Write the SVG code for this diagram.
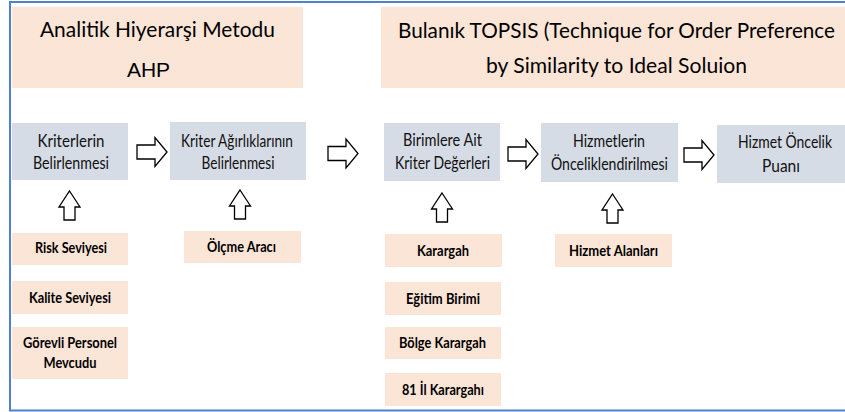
<svg xmlns="http://www.w3.org/2000/svg" xmlns:xlink="http://www.w3.org/1999/xlink" width="845" height="412" viewBox="0 0 845 412">
<style>
.peach{fill:#fbe5d6}
.gray{fill:#d6dce5}
.t{font-family:Lato,"Liberation Sans",sans-serif;font-size:16.5px;fill:#111;text-anchor:middle}
.b{font-family:Lato,"Liberation Sans",sans-serif;font-size:15.5px;font-weight:bold;fill:#000;text-anchor:middle}
.h{font-family:Lato,"Liberation Sans",sans-serif;font-size:21px;fill:#000;text-anchor:middle}
.a{font-family:"Liberation Sans",Arial,sans-serif;font-size:21px;fill:#000;text-anchor:middle}
.arr{fill:#fff;stroke:#000;stroke-width:1.3;stroke-linejoin:miter}
</style>
<defs>
<path id="ra" d="M0,-7 H18 V-14.5 L30,0 L18,14.5 V7 H0 Z"/>
<path id="ua" d="M0,0 L10.5,16 H5.5 V29 H-5.5 V16 H-10.5 Z"/>
</defs>
<rect x="10" y="2" width="840" height="408.5" fill="#fff" stroke="#4f81d1" stroke-width="2"/>

<g id="ahp-header">
<rect class="peach" x="12" y="7" width="291" height="81"/>
<text class="h" x="157.5" y="37" textLength="235" lengthAdjust="spacingAndGlyphs">Analitik Hiyerarşi Metodu</text>
<text class="a" x="148.5" y="77">AHP</text>
</g>
<g id="topsis-header">
<rect class="peach" x="381" y="7" width="464" height="81"/>
<text class="h" x="616.5" y="38" textLength="437" lengthAdjust="spacingAndGlyphs">Bulanık TOPSIS (Technique for Order Preference</text>
<text class="h" x="616.5" y="73" textLength="261" lengthAdjust="spacingAndGlyphs">by Similarity to Ideal Soluion</text>
</g>

<g id="kriterlerin">
<rect class="gray" x="12" y="123" width="116" height="57"/>
<text class="t" x="71" y="147" textLength="67" lengthAdjust="spacingAndGlyphs">Kriterlerin</text>
<text class="t" x="71" y="169" textLength="76" lengthAdjust="spacingAndGlyphs">Belirlenmesi</text>
</g>
<g id="kriter-agirliklari">
<rect class="gray" x="170" y="122" width="136" height="58"/>
<text class="t" x="237" y="147" textLength="112" lengthAdjust="spacingAndGlyphs">Kriter Ağırlıklarının</text>
<text class="t" x="238" y="169" textLength="73" lengthAdjust="spacingAndGlyphs">Belirlenmesi</text>
</g>
<g id="birimlere-ait">
<rect class="gray" x="384" y="123" width="116" height="58"/>
<text class="t" x="442.5" y="146" textLength="79" lengthAdjust="spacingAndGlyphs">Birimlere Ait</text>
<text class="t" x="442.5" y="169" textLength="95" lengthAdjust="spacingAndGlyphs">Kriter Değerleri</text>
</g>
<g id="hizmetlerin">
<rect class="gray" x="541" y="123" width="137" height="59"/>
<text class="t" x="609" y="147" textLength="72" lengthAdjust="spacingAndGlyphs">Hizmetlerin</text>
<text class="t" x="609.5" y="170" textLength="117" lengthAdjust="spacingAndGlyphs">Önceliklendirilmesi</text>
</g>
<g id="hizmet-oncelik">
<rect class="gray" x="717" y="125" width="128" height="58"/>
<text class="t" x="785" y="148" textLength="94" lengthAdjust="spacingAndGlyphs">Hizmet Öncelik</text>
<text class="t" x="781" y="172" textLength="38" lengthAdjust="spacingAndGlyphs">Puanı</text>
</g>

<g id="risk">
<rect class="peach" x="12" y="233" width="116" height="32"/>
<text class="b" x="71" y="253" textLength="72" lengthAdjust="spacingAndGlyphs">Risk Seviyesi</text>
</g>
<g id="kalite">
<rect class="peach" x="12" y="281" width="116" height="33"/>
<text class="b" x="70" y="303" textLength="82" lengthAdjust="spacingAndGlyphs">Kalite Seviyesi</text>
</g>
<g id="gorevli">
<rect class="peach" x="12" y="327" width="116" height="52"/>
<text class="b" x="70" y="348" textLength="94" lengthAdjust="spacingAndGlyphs">Görevli Personel</text>
<text class="b" x="70" y="368" textLength="53" lengthAdjust="spacingAndGlyphs">Mevcudu</text>
</g>
<g id="olcme">
<rect class="peach" x="184" y="231" width="117" height="32"/>
<text class="b" x="241.5" y="252" textLength="69" lengthAdjust="spacingAndGlyphs">Ölçme Aracı</text>
</g>
<g id="karargah">
<rect class="peach" x="385" y="234" width="117" height="33"/>
<text class="b" x="443" y="256" textLength="52" lengthAdjust="spacingAndGlyphs">Karargah</text>
</g>
<g id="egitim">
<rect class="peach" x="385" y="282" width="116" height="33"/>
<text class="b" x="443" y="304" textLength="74" lengthAdjust="spacingAndGlyphs">Eğitim Birimi</text>
</g>
<g id="bolge">
<rect class="peach" x="385" y="327" width="116" height="32"/>
<text class="b" x="442.5" y="348" textLength="87" lengthAdjust="spacingAndGlyphs">Bölge Karargah</text>
</g>
<g id="il">
<rect class="peach" x="385" y="373" width="116" height="33"/>
<text class="b" x="443" y="395" textLength="82" lengthAdjust="spacingAndGlyphs">81 İl Karargahı</text>
</g>
<g id="hizmet-alanlari">
<rect class="peach" x="555" y="234" width="117" height="33"/>
<text class="b" x="613.5" y="256" textLength="89" lengthAdjust="spacingAndGlyphs">Hizmet Alanları</text>
</g>

<g id="connectors">
<use xlink:href="#ra" class="arr" transform="translate(137,152)"/>
<use xlink:href="#ra" class="arr" transform="translate(328,153.5)"/>
<use xlink:href="#ra" class="arr" transform="translate(508,154)"/>
<use xlink:href="#ra" class="arr" transform="translate(684,155)"/>
<use xlink:href="#ua" class="arr" transform="translate(69.5,191)"/>
<use xlink:href="#ua" class="arr" transform="translate(240,190)"/>
<use xlink:href="#ua" class="arr" transform="translate(442,193)"/>
<use xlink:href="#ua" class="arr" transform="translate(612.5,194)"/>
</g>
</svg>
